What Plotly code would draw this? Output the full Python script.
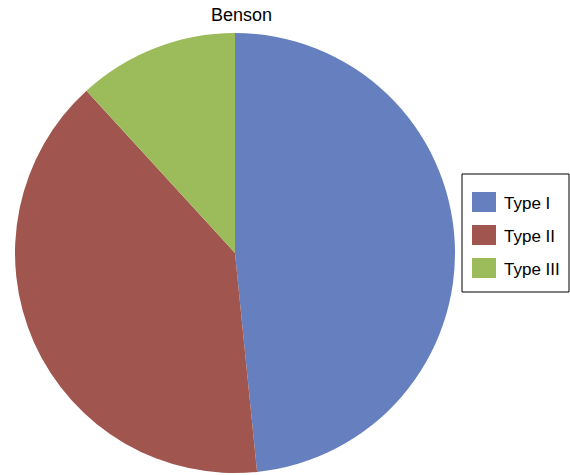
import plotly.graph_objects as go

labels = ["Type I", "Type II", "Type III"]
values = [48.4, 39.8, 11.8]
colors = ["#6680BF", "#A0554F", "#9CBB5A"]
title = "Benson"

W, H = 570, 475


def px(x):
    return x / W


def py(y):
    return 1 - y / H


fig = go.Figure()
fig.add_trace(go.Pie(
    labels=labels, values=values, sort=False, direction="clockwise", rotation=0,
    marker=dict(colors=colors, line=dict(width=0)),
    textinfo="none", hoverinfo="label+percent", showlegend=False,
    domain=dict(x=[px(14), px(456)], y=[py(473), py(33)]),
))

# legend drawn as shapes + text
fig.add_shape(type="rect", xref="paper", yref="paper",
              x0=px(462), x1=px(569), y0=py(292), y1=py(174),
              line=dict(color="black", width=1), fillcolor="white")
for i, (lab, col) in enumerate(zip(labels, colors)):
    cy = 202 + i * 33
    fig.add_shape(type="rect", xref="paper", yref="paper",
                  x0=px(472), x1=px(496), y0=py(cy + 10), y1=py(cy - 10),
                  line=dict(width=0), fillcolor=col)
    fig.add_annotation(xref="paper", yref="paper", x=px(502), y=py(cy + 1),
                       text=lab, showarrow=False, xanchor="left", yanchor="middle",
                       font=dict(size=17, color="black", family="Liberation Sans"))

fig.add_annotation(xref="paper", yref="paper", x=px(241), y=py(15),
                   text=title, showarrow=False, xanchor="center", yanchor="middle",
                   font=dict(size=18, color="black", family="Liberation Sans"))

fig.update_layout(
    width=W, height=H,
    margin=dict(l=0, r=0, t=0, b=0),
    paper_bgcolor="white", plot_bgcolor="white",
    font=dict(family="Liberation Sans"),
)
fig.write_html("out.html", config={"displayModeBar": False},
               post_script="document.body.style.margin='0';")
